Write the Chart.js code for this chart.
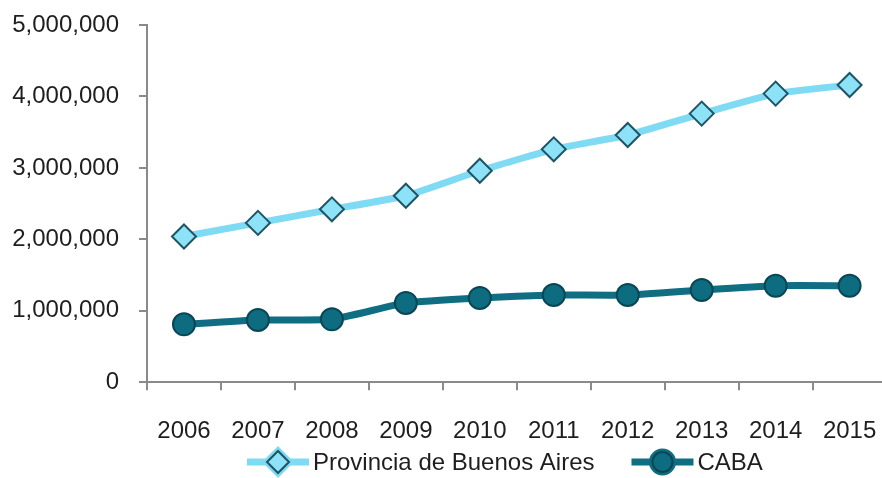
<!DOCTYPE html>
<html>
<head>
<meta charset="utf-8">
<script src="https://cdn.jsdelivr.net/npm/chart.js@4.4.1/dist/chart.umd.min.js"></script>
<style>
  html, body { margin: 0; padding: 0; background: #fff; }
  #wrap { width: 882px; height: 478px; overflow: hidden; position: relative; }
  #chart { display: block; }
</style>
</head>
<body>
<div id="wrap"><canvas id="chart" width="904" height="478"></canvas></div>
<script>
// --- DATA ---
const years = ['2006', '2007', '2008', '2009', '2010', '2011', '2012', '2013', '2014', '2015'];
const provinciaBA = [2040000, 2230000, 2420000, 2610000, 2960000, 3260000, 3460000, 3760000, 4040000, 4160000];
const caba = [810000, 870000, 880000, 1110000, 1180000, 1220000, 1220000, 1290000, 1350000, 1350000];
const yTicks = [0, 1000000, 2000000, 3000000, 4000000, 5000000];

const FONT = "'Liberation Sans', Arial, sans-serif";
const AXIS_COLOR = '#8a8a8a';

// legend drawn as line + marker + label, like the series themselves
const lineLegend = {
    id: 'lineLegend',
    afterDraw(chart) {
        const ctx = chart.ctx;
        const y = 462;
        const segLen = 62, gap = 4, itemGap = 37;
        let x = 247;
        ctx.save();
        ctx.font = '24px ' + FONT;
        chart.data.datasets.forEach(ds => {
            ctx.strokeStyle = ds.borderColor;
            ctx.lineWidth = ds.borderWidth;
            ctx.beginPath();
            ctx.moveTo(x, y);
            ctx.lineTo(x + segLen, y);
            ctx.stroke();
            Chart.helpers.drawPoint(ctx, {
                pointStyle: ds.pointStyle,
                radius: ds.pointRadius - 1,
                borderWidth: ds.pointBorderWidth
            }, x + segLen / 2, y);
            ctx.fillStyle = ds.pointBackgroundColor;
            ctx.strokeStyle = ds.pointBorderColor;
            ctx.lineWidth = ds.pointBorderWidth;
            ctx.fill();
            ctx.stroke();
            ctx.fillStyle = '#1e1e1e';
            ctx.textBaseline = 'middle';
            ctx.textAlign = 'left';
            ctx.fillText(ds.label, x + segLen + gap, y + 1);
            x += segLen + gap + ctx.measureText(ds.label).width + itemGap;
        });
        ctx.restore();
    }
};

const chart = new Chart(document.getElementById('chart'), {
    type: 'line',
    data: {
        labels: years,
        datasets: [
            {
                label: 'Provincia de Buenos Aires',
                data: provinciaBA,
                borderColor: '#7fdaf3',
                borderWidth: 7,
                pointStyle: 'rectRot',
                pointRadius: 12,
                pointBackgroundColor: '#8ee2f7',
                pointBorderColor: '#1d5565',
                pointBorderWidth: 2,
                tension: 0.15
            },
            {
                label: 'CABA',
                data: caba,
                borderColor: '#0f6e82',
                borderWidth: 7,
                pointStyle: 'circle',
                pointRadius: 11,
                pointBackgroundColor: '#0e6c80',
                pointBorderColor: '#0a4755',
                pointBorderWidth: 2,
                tension: 0.15
            }
        ]
    },
    options: {
        responsive: false,
        animation: false,
        layout: { padding: { left: 0, top: 25, right: 0, bottom: 5 } },
        plugins: { legend: { display: false }, tooltip: { enabled: false } },
        scales: {
            x: {
                offset: true,
                grid: { offset: true, drawOnChartArea: false, drawTicks: true, tickLength: 8, color: AXIS_COLOR, lineWidth: 2 },
                border: { display: true, color: AXIS_COLOR, width: 2 },
                ticks: { color: '#1e1e1e', font: { family: FONT, size: 24 }, padding: 27, maxRotation: 0 }
            },
            y: {
                min: 0,
                max: 5000000,
                afterBuildTicks: axis => { axis.ticks = yTicks.map(v => ({ value: v })); },
                // fixed axis gutter; top label may overhang the plot area
                afterFit: axis => { axis.width = 147; axis.paddingTop = 0; },
                grid: { drawOnChartArea: false, drawTicks: true, tickLength: 8, color: AXIS_COLOR, lineWidth: 2 },
                border: { display: true, color: AXIS_COLOR, width: 2 },
                ticks: {
                    color: '#1e1e1e',
                    font: { family: FONT, size: 24 },
                    padding: 20,
                    callback: v => v.toLocaleString('en-US')
                }
            }
        }
    },
    plugins: [lineLegend]
});
</script>
</body>
</html>
